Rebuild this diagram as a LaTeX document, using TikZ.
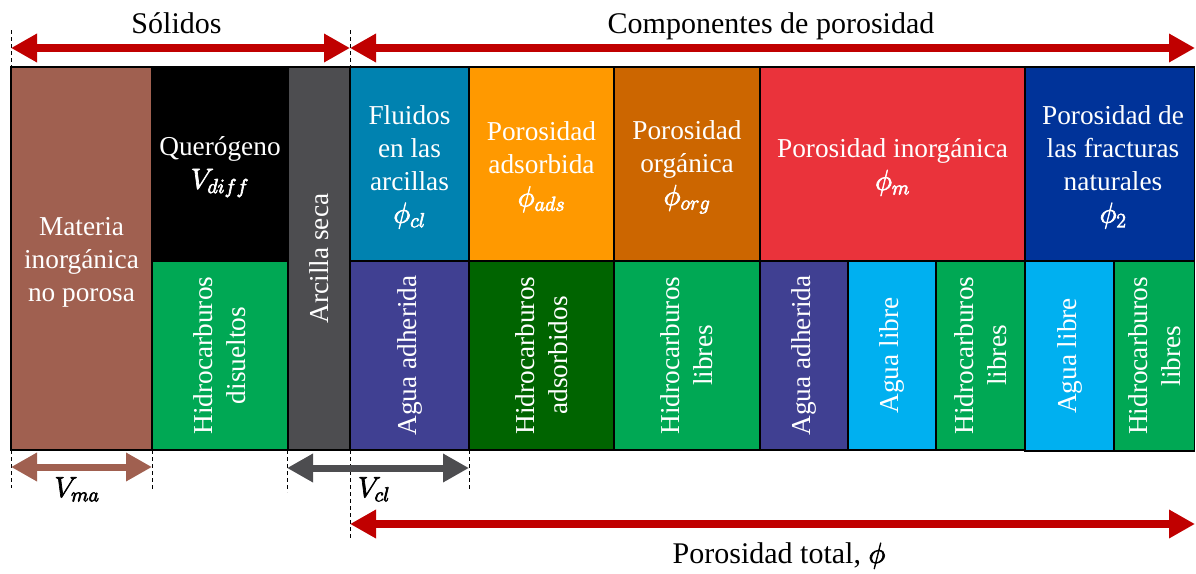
\RequirePackage{fix-cm}
\documentclass[tikz,border=0pt]{standalone}
\usepackage{fontspec}
\setmainfont{Liberation Serif}
\usetikzlibrary{arrows.meta}
\definecolor{cMat}{RGB}{160,96,80}
\definecolor{cArc}{RGB}{77,77,80}
\definecolor{cFlu}{RGB}{0,130,176}
\definecolor{cAds}{RGB}{255,153,0}
\definecolor{cOrg}{RGB}{204,102,0}
\definecolor{cInorg}{RGB}{234,51,59}
\definecolor{cFrac}{RGB}{0,51,153}
\definecolor{cGreen}{RGB}{0,168,84}
\definecolor{cPurple}{RGB}{64,64,146}
\definecolor{cDkGreen}{RGB}{0,100,0}
\definecolor{cLBlue}{RGB}{0,176,240}
\definecolor{cRed}{RGB}{192,0,0}
\newcommand{\bxf}{\fontsize{27.3}{32.8}\selectfont}
\newcommand{\lbf}{\fontsize{30}{36}\selectfont}
\newcommand{\mth}[1]{{\fontsize{29}{32.8}\selectfont\special{pdf:literal direct 2 Tr 0.7 w}$#1$\special{pdf:literal direct 0 Tr}}}
\begin{document}
\begin{tikzpicture}[x=1pt,y=-1pt,
  box/.style={draw=black, line width=1.5pt, inner sep=0pt, outer sep=0pt,
              text=white, font=\bxf, align=center},
  btxt/.style={text=white, font=\bxf, align=center, inner sep=0pt},
  vtxt/.style={btxt, rotate=90},
  lbl/.style={text=black, font=\lbf, inner sep=0pt, anchor=base},
  dashline/.style={draw=black, line width=1pt, dash pattern=on 4pt off 3pt},
  bigarr/.style={line width=8pt, {Triangle[length=26pt,width=27pt]}-{Triangle[length=26pt,width=27pt]}}]
\useasboundingbox (0,0) rectangle (1196,573);

% boxes
\node[box, fill=cMat, minimum width=141pt, minimum height=383pt] (mat) at (81.5,258.5) {};
\node[box, fill=black, minimum width=136pt, minimum height=194pt] (ker) at (220,164) {};
\node[box, fill=cGreen, minimum width=136pt, minimum height=189pt] (hdis) at (220,355.5) {};
\node[box, fill=cArc, minimum width=62pt, minimum height=383pt] (arc) at (319,258.5) {};
\node[box, fill=cFlu, minimum width=119pt, minimum height=194pt] (flu) at (409.5,164) {};
\node[box, fill=cPurple, minimum width=119pt, minimum height=189pt] (agua1) at (409.5,355.5) {};
\node[box, fill=cAds, minimum width=145pt, minimum height=194pt] (ads) at (541.5,164) {};
\node[box, fill=cDkGreen, minimum width=145pt, minimum height=189pt] (hads) at (541.5,355.5) {};
\node[box, fill=cOrg, minimum width=146pt, minimum height=194pt] (org) at (687,164) {};
\node[box, fill=cGreen, minimum width=146pt, minimum height=189pt] (hlib1) at (687,355.5) {};
\node[box, fill=cInorg, minimum width=265pt, minimum height=194pt] (inorg) at (892.5,164) {};
\node[box, fill=cPurple, minimum width=88pt, minimum height=189pt] (agua2) at (804,355.5) {};
\node[box, fill=cLBlue, minimum width=88pt, minimum height=189pt] (libre1) at (892,355.5) {};
\node[box, fill=cGreen, minimum width=89pt, minimum height=189pt] (hlib2) at (980.5,355.5) {};
\node[box, fill=cFrac, minimum width=169pt, minimum height=194pt] (frac) at (1110,164) {};
\node[box, fill=cLBlue, minimum width=89pt, minimum height=190pt] (libre2) at (1069.5,356) {};
\node[box, fill=cGreen, minimum width=80pt, minimum height=190pt] (hlib3) at (1154.5,356) {};

% horizontal texts
\node[btxt] (t-mat) at ([yshift=-4pt]mat.center) {Materia\\inorgánica\\no porosa};
\node[btxt] (t-ker) at ([yshift=-3pt]ker.center) {Querógeno\\\mth{V_{diff}}};
\node[btxt] (t-flu) at ([yshift=-3pt]flu.center) {Fluidos\\en las\\arcillas\\\mth{\phi_{cl}}};
\node[btxt] (t-ads) at ([yshift=-3pt]ads.center) {Porosidad\\adsorbida\\\mth{\phi_{ads}}};
\node[btxt] (t-org) at ([yshift=-3pt]org.center) {Porosidad\\orgánica\\\mth{\phi_{org}}};
\node[btxt] (t-inorg) at ([yshift=-3pt]inorg.center) {Porosidad inorgánica\\\mth{\phi_m}};
\node[btxt] (t-frac) at ([xshift=3pt,yshift=-3pt]frac.center) {Porosidad de\\las fracturas\\naturales\\\mth{\phi_2}};

% rotated texts
\node[vtxt] (t-hdis) at (hdis) {Hidrocarburos\\disueltos};
\node[vtxt] (t-arc) at (arc) {Arcilla seca};
\node[vtxt] (t-agua1) at (agua1) {Agua adherida};
\node[vtxt] (t-hads) at (hads) {Hidrocarburos\\adsorbidos};
\node[vtxt] (t-hlib1) at (hlib1) {Hidrocarburos\\libres};
\node[vtxt] (t-agua2) at (agua2) {Agua adherida};
\node[vtxt] (t-libre1) at (libre1) {Agua libre};
\node[vtxt] (t-hlib2) at (hlib2) {Hidrocarburos\\libres};
\node[vtxt] (t-libre2) at (libre2) {Agua libre};
\node[vtxt] (t-hlib3) at (hlib3) {Hidrocarburos\\libres};

% coordinates for dimension lines
\coordinate (tA) at (11,48);
\coordinate (tB) at (350,48);
\coordinate (tC) at (1195,48);
\coordinate (dA1) at (11,30);
\coordinate (dA2) at (11,67);
\coordinate (dB1) at (350,30);
\coordinate (dB2) at (350,67);
\coordinate (b1t) at (11,450);   \coordinate (b1b) at (11,488);
\coordinate (b2t) at (152,450);  \coordinate (b2b) at (152,490);
\coordinate (b3t) at (287,450);  \coordinate (b3b) at (287,492);
\coordinate (b4t) at (350,450);  \coordinate (b4b) at (350,540);
\coordinate (b5t) at (469,450);  \coordinate (b5b) at (469,490);
\coordinate (vmaL) at (11,467);  \coordinate (vmaR) at (152,467);
\coordinate (vclL) at (287,468); \coordinate (vclR) at (469,468);
\coordinate (ptL) at (350,524);  \coordinate (ptR) at (1195,524);

% dashed guides
\draw[dashline] (dA1) -- (dA2);
\draw[dashline] (dB1) -- (dB2);
\draw[dashline] (b1t) -- (b1b);
\draw[dashline] (b2t) -- (b2b);
\draw[dashline] (b3t) -- (b3b);
\draw[dashline] (b4t) -- (b4b);
\draw[dashline] (b5t) -- (b5b);

% arrows
\draw[bigarr, draw=cRed, fill=cRed] (tA) -- (tB);
\draw[bigarr, draw=cRed, fill=cRed] (tB) -- (tC);
\draw[bigarr, draw=cRed, fill=cRed] (ptL) -- (ptR);
\draw[bigarr, line width=7pt, draw=cMat, fill=cMat] (vmaL) -- (vmaR);
\draw[bigarr, line width=7pt, draw=cArc, fill=cArc] (vclL) -- (vclR);

% labels
\node[lbl] (l-sol) at (176.5,33) {Sólidos};
\node[lbl] (l-comp) at (771,33) {Componentes de porosidad};
\node[lbl] (l-pt) at (779,563) {Porosidad total, \mth{\phi}};
\node[lbl] (l-vma) at (77,497) {\mth{V_{ma}}};
\node[lbl] (l-vcl) at (374,497) {\mth{V_{cl}}};
\end{tikzpicture}
\end{document}
